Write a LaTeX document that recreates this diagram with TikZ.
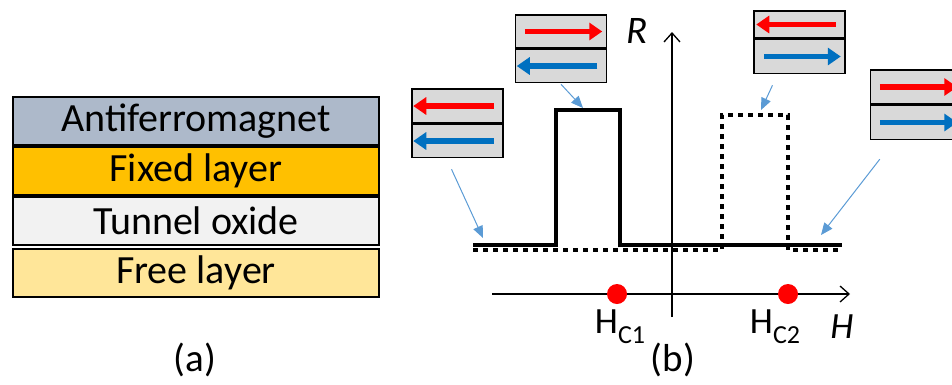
\documentclass[tikz,border=0pt]{standalone}
\usepackage{fontspec}
\setmainfont{Carlito}
\usepackage{tikz}
\usetikzlibrary{arrows.meta, positioning}
\definecolor{afmblue}{RGB}{173, 185, 202}
\definecolor{fixedorange}{RGB}{255, 192, 0}
\definecolor{oxidegray}{RGB}{242, 242, 242}
\definecolor{freeyellow}{RGB}{255, 230, 153}
\definecolor{boxgray}{RGB}{217, 217, 217}
\definecolor{spinred}{RGB}{255, 0, 0}
\definecolor{spinblue}{RGB}{0, 112, 192}
\definecolor{pointerblue}{RGB}{91, 155, 213}

\begin{document}
\begin{tikzpicture}[
    x=1pt, y=-1pt,
    layer/.style={rectangle, draw, line width=2pt, minimum width=366pt, minimum height=48pt, inner sep=0pt, font=\fontsize{40}{42}\selectfont},
    magbox/.style={rectangle, draw, line width=1.5pt, fill=boxgray, minimum width=91pt, minimum height=33pt, inner sep=0pt},
    redspin/.style={spinred, line width=5.5pt, -{Triangle[length=13pt, width=17pt]}},
    bluespin/.style={spinblue, line width=5.5pt, -{Triangle[length=13pt, width=17pt]}},
    pointer/.style={pointerblue, line width=1pt, -{Triangle[length=12pt, width=10pt]}},
    axis/.style={line width=1.3pt, -{Straight Barb[length=9pt, width=16pt]}},
    curveup/.style={line width=4pt},
    curvedown/.style={line width=4.5pt, dash pattern=on 5pt off 5pt},
    lbl/.style={font=\fontsize{39}{42}\selectfont}
]
    \clip (0,0) rectangle (952,384);

    % (a): stack
    \node[layer, fill=afmblue] (afm) at (196,121) {Antiferromagnet};
    \node[layer, fill=fixedorange, below=0pt of afm] (fixed) {Fixed layer};
    \node[layer, fill=oxidegray, below=0pt of fixed] (oxide) {Tunnel oxide};
    \node[layer, fill=freeyellow, below=2pt of oxide] (free) {Free layer};
    \node[lbl] (capa) at (195,360) {(a)};

    % (b): axes
    \coordinate (vbot) at (672,317);
    \coordinate (vtop) at (672,32);
    \coordinate (hleft) at (492,294);
    \coordinate (hright) at (850,294);
    \draw[axis] (vbot) -- (vtop);
    \draw[axis] (hleft) -- (hright);
    \node[lbl, font=\fontsize{39}{42}\selectfont\itshape] (rlab) at (637,31) {R};
    \node[lbl, font=\fontsize{37}{40}\selectfont\itshape] (hlab) at (842,327) {H};
    \fill[spinred] (617,294) circle (10pt);
    \fill[spinred] (788,294) circle (10pt);
    \node[anchor=base, font=\fontsize{37}{40}\selectfont] (hc1) at (620,333) {H\raisebox{-10pt}{\fontsize{26}{28}\selectfont C1}};
    \node[anchor=base, font=\fontsize{37}{40}\selectfont] (hc2) at (775,333) {H\raisebox{-10pt}{\fontsize{26}{28}\selectfont C2}};
    \node[lbl] (capb) at (673,360) {(b)};

    % loop
    \draw[curvedown] (473,250) -- (722,250) -- (722,115) -- (788,115) -- (788,250) -- (842,250);
    \draw[curveup] (473,245) -- (556,245) -- (556,110) -- (620,110) -- (620,245) -- (842,245);

    % magnet states
    \node[magbox] (m1t) at (561,31.5) {};
    \node[magbox, below=0pt of m1t] (m1b) {};
    \node[magbox, minimum height=34pt] (m2t) at (457.5,106) {};
    \node[magbox, below=0pt of m2t] (m2b) {};
    \node[magbox, minimum height=27pt] (m3t) at (799.5,24.5) {};
    \node[magbox, minimum height=34pt, below=0pt of m3t] (m3b) {};
    \node[magbox, minimum height=34pt] (m4t) at (916,87) {};
    \node[magbox, minimum height=34pt, below=0pt of m4t] (m4b) {};

    \draw[redspin] ([xshift=10pt]m1t.west) -- ([xshift=-5pt]m1t.east);
    \draw[bluespin] ([xshift=-10pt]m1b.east) -- ([xshift=2pt]m1b.west);
    \draw[redspin] ([xshift=-10pt]m2t.east) -- ([xshift=2pt]m2t.west);
    \draw[bluespin] ([xshift=-10pt]m2b.east) -- ([xshift=2pt]m2b.west);
    \draw[redspin] ([xshift=-10pt]m3t.east) -- ([xshift=3pt]m3t.west);
    \draw[bluespin] ([xshift=11pt]m3b.west) -- ([xshift=-5pt]m3b.east);
    \draw[redspin] ([xshift=10pt]m4t.west) -- ([xshift=-5pt]m4t.east);
    \draw[bluespin] ([xshift=10pt]m4b.west) -- ([xshift=-5pt]m4b.east);

    % pointers
    \coordinate (p1) at (583,108);
    \coordinate (p2) at (483,238);
    \coordinate (p3) at (761,110);
    \coordinate (p4) at (821,235);
    \draw[pointer] ([yshift=-1pt]m1b.south) -- (p1);
    \draw[pointer] ([xshift=-6pt, yshift=-11pt]m2b.south) -- (p2);
    \draw[pointer] ([xshift=-27pt, yshift=-11pt]m3b.south) -- (p3);
    \draw[pointer] ([xshift=10pt, yshift=-19pt]m4b.south west) -- (p4);
\end{tikzpicture}
\end{document}
